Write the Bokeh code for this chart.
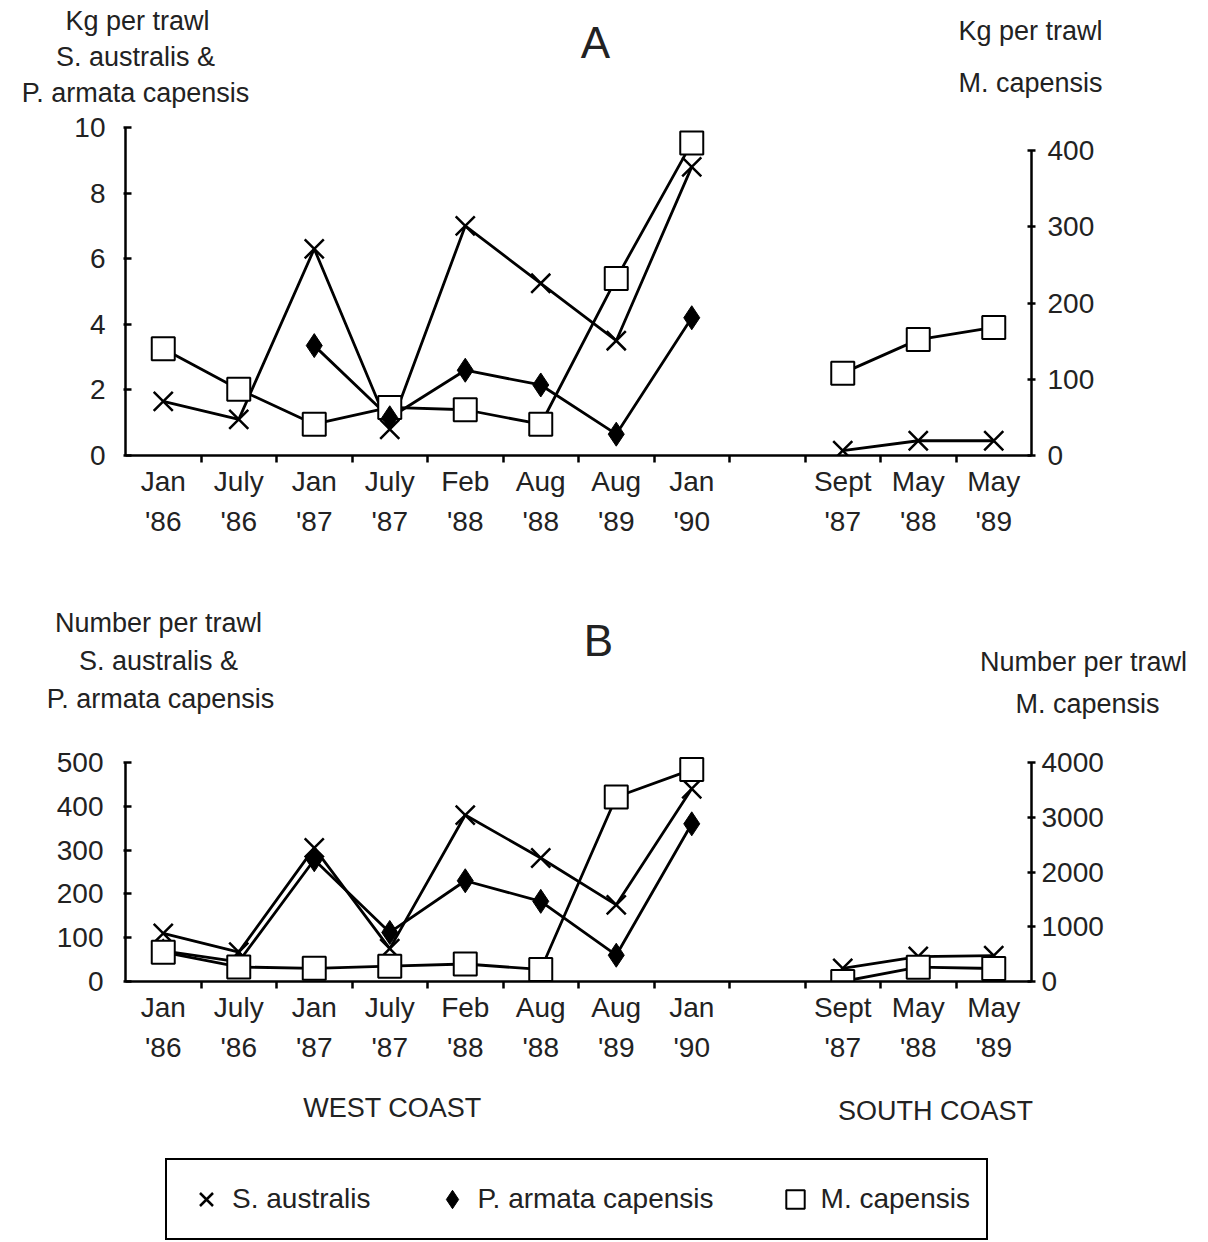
from bokeh.plotting import figure
from bokeh.models import (Range1d, LinearAxis, FixedTicker, Label, Legend,
                          LegendItem, ColumnDataSource)
from bokeh.layouts import column
from bokeh.embed import file_html
from bokeh.resources import INLINE

FONT = "Liberation Sans"
INK = "#222222"
NaN = float("nan")

# ---------------- data ----------------
west_months = ["Jan\n'86", "July\n'86", "Jan\n'87", "July\n'87",
               "Feb\n'88", "Aug\n'88", "Aug\n'89", "Jan\n'90"]
south_months = ["Sept\n'87", "May\n'88", "May\n'89"]

# Panel A : kg per trawl
a_saus_west = [1.65, 1.1, 6.3, 0.8, 7.0, 5.25, 3.5, 8.8]
a_saus_south = [0.15, 0.45, 0.45]
a_parm_west = [NaN, NaN, 3.35, 1.15, 2.6, 2.15, 0.65, 4.2]
a_mcap_west = [140, 87, 41, 63, 60, 41, 232, 410]
a_mcap_south = [108, 152, 168]
a_left_ticks = [0, 2, 4, 6, 8, 10]
a_right_ticks = [0, 100, 200, 300, 400]

# Panel B : number per trawl
b_saus_west = [110, 67, 305, 75, 380, 282, 175, 440]
b_saus_south = [30, 57, 59]
b_parm_west = [70, 45, 278, 112, 230, 183, 60, 360]
b_mcap_west = [535, 265, 240, 280, 320, 220, 3370, 3870]
b_mcap_south = [0, 261, 237]
b_left_ticks = [0, 100, 200, 300, 400, 500]
b_right_ticks = [0, 1000, 2000, 3000, 4000]

legend_labels = ["S. australis", "P. armata capensis", "M. capensis"]

# ---------------- layout helpers ----------------
GAP = 1
west_x = list(range(len(west_months)))
south_x = [len(west_months) + GAP + i for i in range(len(south_months))]
all_x = west_x + south_x
overrides = {x: lab for x, lab in zip(all_x, west_months + south_months)}
x_lo, x_hi = -0.5, all_x[-1] + 0.5
sep_ticks = [i + 0.5 for i in range(int(all_x[-1]))]

PAGE_W = 1208
FRAME_LEFT = 125
FRAME_W = 906


def text_strip(height):
    p = figure(frame_width=PAGE_W, frame_height=height, min_border=0,
               frame_align=False,
               x_range=Range1d(0, PAGE_W), y_range=Range1d(height, 0),
               x_axis_type=None, y_axis_type=None,
               output_backend="svg", toolbar_location=None,
               outline_line_color=None, background_fill_color="white",
               border_fill_color="white")
    return p


def put_text(p, top, px, py, t, size="27px"):
    p.add_layout(Label(x=px, y=py - top, text=t,
                       text_align="center", text_baseline="middle",
                       text_font=FONT, text_font_size=size, text_color=INK))


def make_panel(top_border, frame_h, bottom_border, left_max, left_ticks,
               right_max, right_ticks, left_standoff, right_standoff):
    p = figure(frame_width=FRAME_W, frame_height=frame_h,
               min_border_left=FRAME_LEFT,
               min_border_right=PAGE_W - FRAME_LEFT - FRAME_W,
               min_border_top=top_border, min_border_bottom=bottom_border,
               frame_align=False,
               x_range=Range1d(x_lo, x_hi), y_range=Range1d(0, left_max),
               x_axis_type=None, y_axis_type=None,
               output_backend="svg", toolbar_location=None,
               outline_line_color=None, background_fill_color="white",
               border_fill_color="white")
    ly = LinearAxis(ticker=FixedTicker(ticks=left_ticks), bounds=(0, left_ticks[-1]),
                    axis_line_width=2.5, major_tick_line_width=2.5,
                    major_tick_in=6, major_tick_out=2,
                    major_label_text_font=FONT, major_label_text_font_size="28px",
                    major_label_text_color=INK,
                    major_label_standoff=left_standoff)
    p.add_layout(ly, "left")
    p.extra_y_ranges = {"m": Range1d(0, right_max)}
    ry = LinearAxis(y_range_name="m", ticker=FixedTicker(ticks=right_ticks),
                    bounds=(0, right_ticks[-1]),
                    axis_line_width=2.5, major_tick_line_width=2.5,
                    major_tick_in=4, major_tick_out=4,
                    major_label_text_font=FONT, major_label_text_font_size="28px",
                    major_label_text_color=INK,
                    major_label_standoff=right_standoff)
    p.add_layout(ry, "right")
    bx = LinearAxis(ticker=FixedTicker(ticks=sep_ticks),
                    major_label_overrides={t: "" for t in sep_ticks},
                    axis_line_width=2.5, major_tick_line_width=2.5,
                    major_tick_in=0, major_tick_out=7, major_label_standoff=0)
    p.add_layout(bx, "below")
    lx = LinearAxis(ticker=FixedTicker(ticks=all_x),
                    major_label_overrides=overrides,
                    axis_line_color=None, major_tick_line_color=None,
                    major_tick_in=0, major_tick_out=0,
                    major_label_text_font=FONT, major_label_text_font_size="28px",
                    major_label_text_color=INK,
                    major_label_text_line_height=1.3,
                    major_label_standoff=3)
    p.add_layout(lx, "below")
    return p


def series_line(p, xs, ys, y_range_name="default"):
    src = ColumnDataSource(dict(x=xs, y=ys))
    p.line("x", "y", source=src, line_color="black", line_width=2.8,
           y_range_name=y_range_name)
    return src


MARK = {
    "square": dict(marker="square", size=23, fill_color="white",
                   line_color="black", line_width=2),
    "diamond": dict(marker="diamond", size=24, fill_color="black",
                    line_color="black", line_width=1),
    "x": dict(marker="x", size=27, line_color="black", line_width=2.5),
}


def markers(p, src, kind, y_range_name="default"):
    return p.scatter("x", "y", source=src, y_range_name=y_range_name, **MARK[kind])


# ---------------- Header A ----------------
HA = 112
ha = text_strip(HA)
put_text(ha, 0, 137, 20, "Kg per trawl")
put_text(ha, 0, 135, 56, "S. australis &")
put_text(ha, 0, 135, 92, "P. armata capensis")
put_text(ha, 0, 595, 42, "A", "44px")
put_text(ha, 0, 1030, 30, "Kg per trawl")
put_text(ha, 0, 1030, 82, "M. capensis")

# ---------------- Panel A ----------------
A_FT, A_ZERO, A_END = 117, 455, 590
a_h = A_ZERO - A_FT
a_left_max = a_left_ticks[-1] * a_h / (A_ZERO - 127)
a_right_max = a_right_ticks[-1] * a_h / (A_ZERO - 150)
pa = make_panel(A_FT - HA, a_h, A_END - A_ZERO, a_left_max, a_left_ticks,
                a_right_max, a_right_ticks, 18, 12)
s1 = series_line(pa, west_x, a_saus_west)
s2 = series_line(pa, south_x, a_saus_south)
d1 = series_line(pa, west_x, a_parm_west)
m1 = series_line(pa, west_x, a_mcap_west, "m")
m2 = series_line(pa, south_x, a_mcap_south, "m")
markers(pa, m1, "square", "m")
markers(pa, m2, "square", "m")
markers(pa, d1, "diamond")
markers(pa, s1, "x")
markers(pa, s2, "x")

# ---------------- Header B ----------------
HB_TOP, HB = A_END, 132
hb = text_strip(HB)
put_text(hb, HB_TOP, 158, 622, "Number per trawl")
put_text(hb, HB_TOP, 158, 660, "S. australis &")
put_text(hb, HB_TOP, 160, 698, "P. armata capensis")
put_text(hb, HB_TOP, 598, 640, "B", "44px")
put_text(hb, HB_TOP, 1083, 661, "Number per trawl")
put_text(hb, HB_TOP, 1087, 703, "M. capensis")

# ---------------- Panel B ----------------
B_START = HB_TOP + HB          # 722
B_FT, B_TOPTICK, B_ZERO, B_END = 750, 762, 981, 1085
b_h = B_ZERO - B_FT
b_left_max = b_left_ticks[-1] * b_h / (B_ZERO - B_TOPTICK)
b_right_max = b_right_ticks[-1] * b_h / (B_ZERO - B_TOPTICK)
pb = make_panel(B_FT - B_START, b_h, B_END - B_ZERO, b_left_max, b_left_ticks,
                b_right_max, b_right_ticks, 20, 6)
t1 = series_line(pb, west_x, b_saus_west)
t2 = series_line(pb, south_x, b_saus_south)
e1 = series_line(pb, west_x, b_parm_west)
n1 = series_line(pb, west_x, b_mcap_west, "m")
n2 = series_line(pb, south_x, b_mcap_south, "m")
markers(pb, e1, "diamond")
markers(pb, t1, "x")
markers(pb, t2, "x")
markers(pb, n1, "square", "m")
markers(pb, n2, "square", "m")

# ---------------- Footer (region labels + key) ----------------
F_TOP = B_END
FH = 1242 - F_TOP
ft = text_strip(FH)
put_text(ft, F_TOP, 392, 1107, "WEST COAST")
put_text(ft, F_TOP, 935, 1110, "SOUTH COAST")
# hidden one-point sources that only supply the key's glyph styles
key_src = ColumnDataSource(dict(x=[0], y=[0]))
kx = ft.scatter("x", "y", source=key_src, visible=False, **MARK["x"])
kd = ft.scatter("x", "y", source=key_src, visible=False, **MARK["diamond"])
ks = ft.scatter("x", "y", source=key_src, visible=False, **MARK["square"])
legend = Legend(items=[LegendItem(label=legend_labels[0], renderers=[kx]),
                       LegendItem(label=legend_labels[1], renderers=[kd]),
                       LegendItem(label=legend_labels[2], renderers=[ks])],
                orientation="horizontal",
                location=(165, 2),
                glyph_width=46, glyph_height=46, label_standoff=3,
                spacing=58, padding=16, margin=0,
                inactive_fill_alpha=0.0,
                label_text_font=FONT, label_text_font_size="28px",
                label_text_color=INK,
                border_line_color="black", border_line_width=2,
                border_line_alpha=1.0,
                background_fill_color="white", background_fill_alpha=1.0)
ft.add_layout(legend, "center")

layout = column(ha, pa, hb, pb, ft, spacing=0)
open("out.html", "w").write(file_html(layout, INLINE))
